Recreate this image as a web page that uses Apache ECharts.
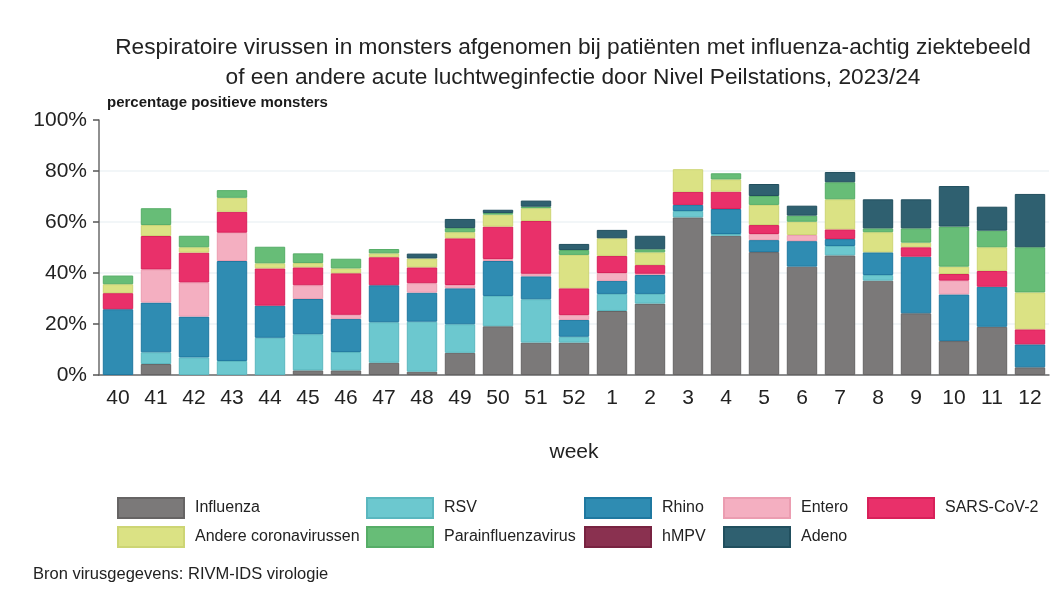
<!DOCTYPE html>
<html>
<head>
<meta charset="utf-8">
<script src="https://cdn.jsdelivr.net/npm/echarts@6/dist/echarts.min.js"></script>
<style>
  html, body { margin: 0; padding: 0; background: #fff; }
  #chart { width: 1055px; height: 597px; }
</style>
</head>
<body>
<div id="chart"></div>
<script>
// weken 40 t/m 12
var weeks = ['40', '41', '42', '43', '44', '45', '46', '47', '48', '49', '50', '51', '52',
    '1', '2', '3', '4', '5', '6', '7', '8', '9', '10', '11', '12'];

// percentage positieve monsters per virus
var influenza = [0, 4.3, 0, 0, 0, 1.8, 1.8, 4.8, 1.3, 8.7, 19.1, 12.7, 12.7, 25.1, 28, 61.8, 54.6, 48.2, 42.5, 46.9, 37, 24.2, 13.3, 18.9, 3];
var rsv = [0, 4.6, 6.9, 5.5, 14.6, 14.2, 7.2, 15.9, 19.6, 11.2, 11.9, 17, 2.3, 6.7, 3.8, 2.5, 0.7, 0, 0, 3.7, 2.2, 0, 0, 0, 0];
var rhino = [25.8, 19.5, 16, 39.2, 12.6, 13.8, 13, 14.5, 11.4, 14.1, 13.7, 9, 6.6, 5.1, 7.4, 2.4, 9.8, 4.7, 10, 2.7, 8.9, 22.2, 18.3, 15.7, 9];
var entero = [0, 13, 13.4, 11.1, 0, 5.4, 1.6, 0, 3.7, 1.3, 0.8, 1, 1.9, 3.1, 0.5, 0, 0, 2.4, 2.4, 0, 0, 0, 5.4, 0, 0];
var sars = [6.3, 13.1, 11.7, 8.2, 14.6, 7, 16.3, 11, 6.2, 18.3, 12.7, 20.7, 10.5, 6.7, 3.4, 5.1, 6.8, 3.5, 0, 3.8, 0, 3.7, 2.6, 6.2, 5.9];
var andere = [3.5, 4.3, 2.1, 5.5, 2, 1.7, 1.9, 1.5, 3.5, 2.4, 4.7, 5, 13.1, 6.9, 5, 8.9, 4.8, 7.9, 5.2, 11.8, 7.9, 1.8, 2.9, 9.3, 14.5];
var para = [3.4, 6.6, 4.5, 3, 6.5, 3.8, 3.8, 1.7, 0, 1.6, 0.6, 0.6, 1.9, 0, 1.2, 0, 2.4, 3.5, 2.4, 6.7, 1.5, 5.6, 15.7, 6.5, 17.7];
var hmpv = [0, 0, 0, 0, 0, 0, 0, 0, 0, 0, 0, 0, 0, 0, 0, 0, 0, 0, 0, 0, 0, 0, 0, 0, 0];
var adeno = [0, 0, 0, 0, 0, 0, 0, 0, 1.9, 3.6, 1.3, 2.4, 2.4, 3.3, 5.3, 0, 0, 4.7, 3.9, 4, 11.4, 11.4, 15.9, 9.4, 20.9];

var yTicks = [0, 20, 40, 60, 80, 100];

var virussen = [
    { name: 'Influenza', data: influenza, color: '#7b7979', border: '#666464' },
    { name: 'RSV', data: rsv, color: '#6cc8cf', border: '#5ab7bf' },
    { name: 'Rhino', data: rhino, color: '#2f8cb2', border: '#1f78a0' },
    { name: 'Entero', data: entero, color: '#f4afc1', border: '#eb9db1' },
    { name: 'SARS-CoV-2', data: sars, color: '#e9306a', border: '#d8215a' },
    { name: 'Andere coronavirussen', data: andere, color: '#dbe284', border: '#cdd574' },
    { name: 'Parainfluenzavirus', data: para, color: '#67bd77', border: '#56ad67' },
    { name: 'hMPV', data: hmpv, color: '#8a3150', border: '#782341' },
    { name: 'Adeno', data: adeno, color: '#2f6070', border: '#214f5e' }
];

var series = virussen.map(function (v) {
    return {
        name: v.name,
        type: 'bar',
        stack: 'totaal',
        barCategoryGap: '20%',
        itemStyle: { color: v.color, borderColor: v.border, borderWidth: 1 },
        // lege segmenten niet tekenen
        data: v.data.map(function (d) { return d > 0 ? d : null; })
    };
});

// legenda in kolommen
var kolommen = [
    { left: 117, items: ['Influenza', 'Andere coronavirussen'] },
    { left: 366, items: ['RSV', 'Parainfluenzavirus'] },
    { left: 584, items: ['Rhino', 'hMPV'] },
    { left: 723, items: ['Entero', 'Adeno'] },
    { left: 867, items: ['SARS-CoV-2'] }
];
var legends = kolommen.map(function (k) {
    return {
        orient: 'vertical',
        left: k.left,
        top: 497,
        padding: 0,
        itemWidth: 66,
        itemHeight: 20,
        itemGap: 7,
        icon: 'rect',
        selectedMode: false,
        data: k.items,
        textStyle: {
            fontFamily: 'Liberation Sans, Arial, sans-serif',
            fontSize: 16,
            color: '#222',
            padding: [0, 0, 0, 6]
        }
    };
});

var chart = echarts.init(document.getElementById('chart'));
var option = {
    animation: false,
    backgroundColor: '#fff',
    title: [{
        text: 'Respiratoire virussen in monsters afgenomen bij patiënten met influenza-achtig ziektebeeld\nof een andere acute luchtweginfectie door Nivel Peilstations, 2023/24',
        left: 568,
        top: 28,
        textAlign: 'center',
        textStyle: {
            fontFamily: 'Liberation Sans, Arial, sans-serif',
            fontSize: 22.7,
            fontWeight: 'normal',
            lineHeight: 30,
            color: '#222'
        }
    }, {
        text: 'Bron virusgegevens: RIVM-IDS virologie',
        left: 28,
        top: 561,
        textStyle: {
            fontFamily: 'Liberation Sans, Arial, sans-serif',
            fontSize: 16.5,
            fontWeight: 'normal',
            color: '#222'
        }
    }],
    legend: legends,
    grid: { left: 99, right: 6, top: 120, bottom: 222 },
    xAxis: {
        type: 'category',
        data: weeks,
        name: 'week',
        nameLocation: 'middle',
        nameGap: 67,
        nameTextStyle: { fontFamily: 'Liberation Sans, Arial, sans-serif', fontSize: 21, color: '#222' },
        axisLine: { lineStyle: { color: '#6b6b6b', width: 1.5 } },
        axisTick: { alignWithLabel: true, length: 6, lineStyle: { color: '#555', width: 1.5 } },
        axisLabel: { fontFamily: 'Liberation Sans, Arial, sans-serif', fontSize: 21, color: '#222', margin: 13 }
    },
    yAxis: {
        type: 'value',
        min: yTicks[0],
        max: yTicks[yTicks.length - 1],
        interval: 20,
        name: 'percentage positieve monsters',
        nameLocation: 'end',
        nameGap: 17,
        nameTextStyle: {
            fontFamily: 'Liberation Sans, Arial, sans-serif',
            fontSize: 15,
            fontWeight: 'bold',
            color: '#1a1a1a',
            align: 'left',
            verticalAlign: 'middle',
            padding: [0, 0, 0, 8]
        },
        axisLine: { show: true, lineStyle: { color: '#6b6b6b', width: 1.5 } },
        axisTick: { show: true, length: 6, lineStyle: { color: '#555', width: 1.5 } },
        axisLabel: {
            fontFamily: 'Liberation Sans, Arial, sans-serif',
            fontSize: 21,
            color: '#222',
            margin: 12,
            formatter: '{value}%'
        },
        splitLine: {
            lineStyle: {
                color: ['#eef3f6', '#eef3f6', '#eef3f6', '#eef3f6', '#eef3f6', 'rgba(0,0,0,0)'],
                width: 1.5
            }
        }
    },
    series: series
};
chart.setOption(option);
</script>
</body>
</html>
